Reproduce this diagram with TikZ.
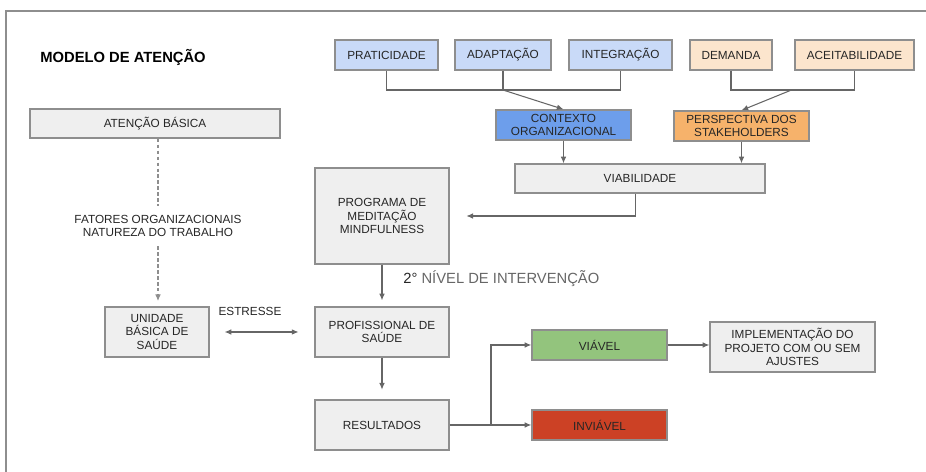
\documentclass[tikz,border=0pt]{standalone}
\usepackage{fontspec}
\setmainfont{Liberation Sans}
\usetikzlibrary{arrows.meta}
\definecolor{boxline}{HTML}{8E8E8E}
\definecolor{wirecol}{HTML}{666666}
\definecolor{greybox}{HTML}{EFEFEF}
\definecolor{lightblue}{HTML}{C9DAF8}
\definecolor{midblue}{HTML}{6D9EEB}
\definecolor{lightpeach}{HTML}{FCE5CD}
\definecolor{peach}{HTML}{F6B26B}
\definecolor{okgreen}{HTML}{93C47D}
\definecolor{badred}{HTML}{CC4125}
\definecolor{inktext}{HTML}{262626}
\tikzset{
	>={Latex[length=3.8pt,width=3.2pt]},
	box/.style = {draw=boxline, line width=0.75pt, fill=greybox, text=inktext, align=center, inner sep=0pt, font=\fontsize{6.7}{7.8}\selectfont},
	wh/.style 2 args = {minimum width=#1*0.02cm, minimum height=#2*0.02cm},
	wire/.style = {draw=wirecol, line width=0.6pt},
	arr/.style = {wire, ->},
	plain/.style = {text=inktext, align=center, inner sep=1pt, font=\fontsize{6.7}{7.8}\selectfont},
}
\begin{document}
\begin{tikzpicture}[x=0.02cm, y=-0.02cm]
	\useasboundingbox (0,0) rectangle (926,472);
	\draw [boxline, line width=0.8pt] (6,472) -- (6,11) -- (926,11);
	\node [anchor=west, font=\fontsize{8.4}{10}\selectfont\bfseries, inner sep=0pt] (title) at (40,57) {MODELO DE ATENÇÃO};
	\node [box, wh={103}{30}, fill=lightblue] (prat) at (386.5,55) {PRATICIDADE};
	\node [box, wh={96}{30}, fill=lightblue] (adap) at (503,55) {ADAPTAÇÃO};
	\node [box, wh={103}{30}, fill=lightblue] (integ) at (620.5,55) {INTEGRAÇÃO};
	\node [box, wh={82}{30}, fill=lightpeach] (dem) at (731,55) {DEMANDA};
	\node [box, wh={119}{30}, fill=lightpeach] (aceit) at (854.5,55) {ACEITABILIDADE};
	\node [box, wh={135}{30}, fill=midblue] (ctx) at (563.5,125) {CONTEXTO\\ORGANIZACIONAL};
	\node [box, wh={135}{30}, fill=peach] (persp) at (741.5,126) {PERSPECTIVA DOS\\STAKEHOLDERS};
	\node [box, wh={250}{29}] (viab) at (640,178.5) {VIABILIDADE};
	\node [box, wh={250}{29}] (atb) at (155,123.5) {ATENÇÃO BÁSICA};
	\node [box, wh={134}{96}] (prog) at (382,216) {PROGRAMA DE\\MEDITAÇÃO\\MINDFULNESS};
	\node [plain, inner sep=5pt] (fat) at (158,226) {FATORES ORGANIZACIONAIS\\NATUREZA DO TRABALHO};
	\node [box, wh={104}{50}] (ubs) at (157,332) {UNIDADE\\BÁSICA DE\\SAÚDE};
	\node [box, wh={134}{50}] (prof) at (382,332) {PROFISSIONAL DE\\SAÚDE};
	\node [box, wh={134}{50}] (res) at (382,425) {RESULTADOS};
	\node [plain] (estr) at (250,311) {ESTRESSE};
	\node [anchor=west, inner sep=0pt, text=wirecol, font=\fontsize{8.4}{10}\selectfont] (nivel) at (403,279) {\textcolor{inktext}{2°} NÍVEL DE INTERVENÇÃO};
	\node [box, wh={135}{30}, fill=okgreen] (viavel) at (599.5,345) {VIÁVEL};
	\node [box, wh={135}{30}, fill=badred] (inviavel) at (599.5,425) {INVIÁVEL};
	\node [box, wh={165}{50}] (impl) at (792.5,347) {IMPLEMENTAÇÃO DO\\PROJETO COM OU SEM\\AJUSTES};
	\coordinate (bluej) at (503,90);
	\coordinate (peachj) at (791.5,90);
	\coordinate (split) at (491,425);
	\draw [wire] (prat.south) |- (bluej) -| (integ.south);
	\draw [wire] (adap.south) -- (bluej);
	\draw [wire] (dem.south) |- (peachj) -| (aceit.south);
	\draw [arr] (bluej) -- (ctx.north);
	\draw [arr] (peachj) -- (persp.north);
	\draw [arr] (ctx.south) -- (ctx.south |- viab.north);
	\draw [arr] (persp.south) -- (persp.south |- viab.north);
	\draw [arr, shorten >=9.5pt] ([xshift=-2.8pt]viab.south) |- (prog.east);
	\draw [wire, draw=boxline, dash pattern=on 2pt off 1.4pt] (atb.south -| fat.north) -- (fat.north);
	\draw [arr, draw=boxline, dash pattern=on 2pt off 1.4pt, shorten >=3pt] (fat.south) -- (fat.south |- ubs.north);
	\draw [wire, <->, shorten <=8.5pt, shorten >=9pt] (ubs.east) -- (prof.west);
	\draw [arr, shorten >=3.4pt] (prog.south) -- (prof.north);
	\draw [arr, shorten >=5.5pt] (prof.south) -- (res.north);
	\draw [wire] (res.east) -- (split);
	\draw [arr] (split) |- (viavel.west);
	\draw [arr] (split) -- (inviavel.west);
	\draw [arr] (viavel.east) -- (viavel.east -| impl.west);
\end{tikzpicture}
\end{document}
